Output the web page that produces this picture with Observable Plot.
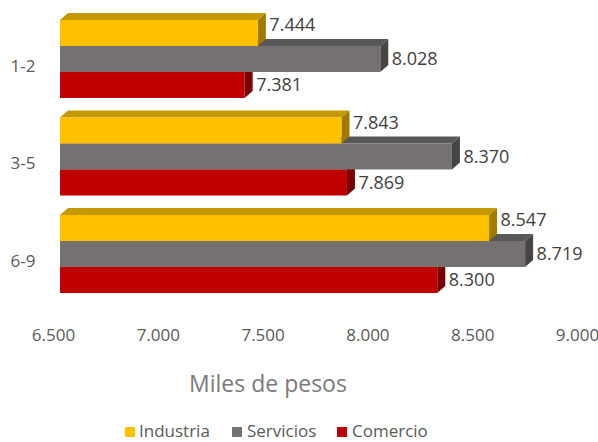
<!DOCTYPE html>
<html>
<head>
<meta charset="utf-8">
<script src="https://cdn.jsdelivr.net/npm/d3@7"></script>
<script src="https://cdn.jsdelivr.net/npm/@observablehq/plot@0.6"></script>
<style>
  html, body { margin: 0; padding: 0; background: #fff; }
  body { width: 598px; height: 442px; position: relative; font-family: "Open Sans", sans-serif; }
  #xlabel { position: absolute; left: 0; width: 536px; top: 372px; text-align: center; font-size: 23px; line-height: 23px; color: #7a7a7a; }
  .leg { position: absolute; top: 418.5px; font-size: 17px; line-height: normal; color: #595959; white-space: nowrap; }
  .sw { position: absolute; top: 427px; width: 10px; height: 10px; }
</style>
</head>
<body>
<div id="chart"></div>
<div id="xlabel">Miles de pesos</div>
<div id="legend"></div>
<script>
// ---- data ----
const categories = ["1-2", "3-5", "6-9"];
const seriesNames = ["Industria", "Servicios", "Comercio"];
const industria = [7444, 7843, 8547];
const servicios = [8028, 8370, 8719];
const comercio = [7381, 7869, 8300];
const xTicks = [6500, 7000, 7500, 8000, 8500, 9000];

// ---- styles ----
const frontColors = ["#FFC000", "#767171", "#C00000"];
const topColors = ["#C49A00", "#585858", "#900000"];
const sideColors = ["#A07B00", "#454545", "#7A0000"];

const xMin = 6500, xMax = 9000;
const step = 3.75;           // group spacing in bar units
const pxPerX = (584 - 60) / (xMax - xMin);
const ddx = 8 / pxPerX;      // depth offset in x units
const ddy = 7 / 26;          // depth offset in y units

const valuesBySeries = [industria, servicios, comercio];
const rows = [];
categories.forEach((c, g) => {
  seriesNames.forEach((s, k) => {
    const y1 = g * step + k;
    rows.push({cat: c, serie: s, k, value: valuesBySeries[k][g], y1, y2: y1 + 1, key: c + "|" + s});
  });
});

const fmt = v => (v / 1000).toFixed(3);

const marks = [];
for (const k of [2, 1, 0]) {
  const rs = rows.filter(r => r.k === k);
  const topPts = rs.flatMap(r => [
    {key: r.key, y: r.y1, xa: xMin, xb: r.value},
    {key: r.key, y: r.y1 - ddy, xa: xMin + ddx, xb: r.value + ddx}
  ]);
  const sidePts = rs.flatMap(r => [
    {key: r.key, x: r.value, ya: r.y1, yb: r.y2},
    {key: r.key, x: r.value + ddx, ya: r.y1 - ddy, yb: r.y2 - ddy}
  ]);
  marks.push(Plot.areaX(topPts, {y: "y", x1: "xa", x2: "xb", z: "key", fill: topColors[k]}));
  marks.push(Plot.areaY(sidePts, {x: "x", y1: "ya", y2: "yb", z: "key", fill: sideColors[k]}));
  marks.push(Plot.rect(rs, {x1: () => xMin, x2: "value", y1: "y1", y2: "y2", fill: frontColors[k], insetTop: 0, insetBottom: 0}));
}
for (const k of [0, 1, 2]) {
  const rs = rows.filter(r => r.k === k);
  marks.push(Plot.text(rs, {
    x: "value", y: r => (r.y1 + r.y2) / 2, text: r => fmt(r.value),
    dx: 11, dy: k === 0 ? -8 : 0, textAnchor: "start", fill: "#404040", fontSize: 18
  }));
}
marks.push(Plot.axisX({ticks: xTicks, tickFormat: fmt, tickSize: 0, tickPadding: 15.5, dx: -7, fontSize: 17, label: null}));
marks.push(Plot.axisY({
  ticks: categories.map((c, g) => g * step + 1.5),
  tickFormat: v => categories[Math.round((v - 1.5) / step)],
  tickSize: 0, tickPadding: 25, dy: 7, fontSize: 17, label: null
}));

const plot = Plot.plot({
  width: 598,
  height: 345,
  marginLeft: 60,
  marginRight: 14,
  marginTop: 20,
  marginBottom: 32.5,
  style: {fontFamily: "Open Sans", fontSize: "17px", color: "#595959", background: "white"},
  x: {domain: [xMin, xMax], range: [60, 584]},
  y: {domain: [0, 3 * step], range: [20, 20 + 26 * 3 * step]},
  marks
});
document.getElementById("chart").appendChild(plot);

// legend
const legendPos = [[125, 139], [232, 247], [337, 352]];
const legend = document.getElementById("legend");
seriesNames.forEach((s, k) => {
  const sw = document.createElement("div");
  sw.className = "sw";
  sw.style.left = legendPos[k][0] + "px";
  sw.style.background = frontColors[k];
  legend.appendChild(sw);
  const t = document.createElement("div");
  t.className = "leg";
  t.style.left = legendPos[k][1] + "px";
  t.textContent = s;
  legend.appendChild(t);
});
</script>
</body>
</html>
